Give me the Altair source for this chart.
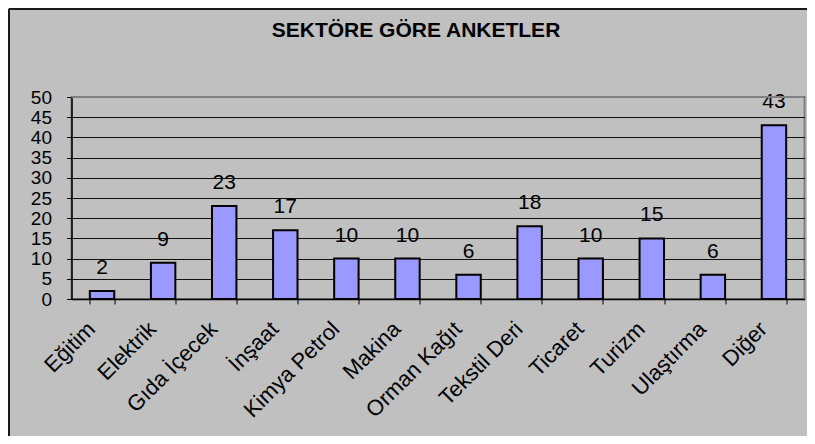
import altair as alt
import pandas as pd

title_text = "SEKTÖRE GÖRE ANKETLER"
sectors = ["Eğitim", "Elektrik", "Gıda İçecek", "İnşaat", "Kimya Petrol", "Makina",
           "Orman Kağıt", "Tekstil Deri", "Ticaret", "Turizm", "Ulaştırma", "Diğer"]
counts = [2, 9, 23, 17, 10, 10, 6, 18, 10, 15, 6, 43]
y_ticks = [0, 5, 10, 15, 20, 25, 30, 35, 40, 45, 50]

df = pd.DataFrame({"sector": sectors, "count": counts})
title_df = pd.DataFrame({"t": [title_text]})

FONT = "Liberation Sans"
W, H = 733, 202

x_enc = alt.X(
    "sector:N", sort=sectors,
    scale=alt.Scale(paddingInner=0.6, paddingOuter=0.3),
    axis=alt.Axis(
        title=None, labelAngle=-45, labelAlign="right", labelBaseline="middle",
        labelFont=FONT, labelFontSize=22, labelColor="black",
        labelPadding=21, labelOffset=-11,
        tickBand="extent", tickSize=5, tickColor="black", tickWidth=1,
        domainColor="black", domainWidth=1.5, labelOverlap=False,
    ),
)
y_enc = alt.Y(
    "count:Q",
    scale=alt.Scale(domain=[0, 50], nice=False, zero=True),
    axis=alt.Axis(
        title=None, values=y_ticks, labelFont=FONT, labelFontSize=19,
        labelColor="black", labelPadding=15, tickSize=5, tickColor="black",
        domainColor="black", domainWidth=1.5, grid=True, labelOverlap=False,
        gridColor="#111111", gridWidth=1.2,
    ),
)

base = alt.Chart(df).encode(x=x_enc, y=y_enc)
bars = base.mark_bar(fill="#9999ff", stroke="black", strokeWidth=2)
labels = base.mark_text(baseline="alphabetic", dy=-17, font=FONT, fontSize=21, color="black").encode(
    text="count:Q"
)
top_line = alt.Chart(title_df).mark_rule(color="#808080", strokeWidth=2).encode(
    x=alt.value(0), x2=alt.value(W), y=alt.value(0)
)
title = alt.Chart(title_df).mark_text(font=FONT, fontSize=21, fontWeight="bold", color="black",
                                      baseline="middle", align="center").encode(
    x=alt.value(344.5), y=alt.value(-66.5), text="t:N"
)
left_border = alt.Chart(title_df).mark_rule(color="#1a1a1a", strokeWidth=2).encode(
    x=alt.value(-62.5), y=alt.value(-88), y2=alt.value(339)
)
top_border = alt.Chart(title_df).mark_rule(color="#1a1a1a", strokeWidth=2).encode(
    x=alt.value(-62.5), x2=alt.value(736), y=alt.value(-88)
)

chart = alt.layer(bars, labels, top_line, title, left_border, top_border).properties(
    width=W, height=H,
    autosize=alt.AutoSizeParams(type="none"),
    padding={"left": 63.5, "top": 89, "right": 2.5, "bottom": 137},
    background="#c0c0c0",
).configure_view(stroke="#808080", strokeWidth=2)

chart.save("out.html", embed_options={"renderer": "svg", "actions": False})
